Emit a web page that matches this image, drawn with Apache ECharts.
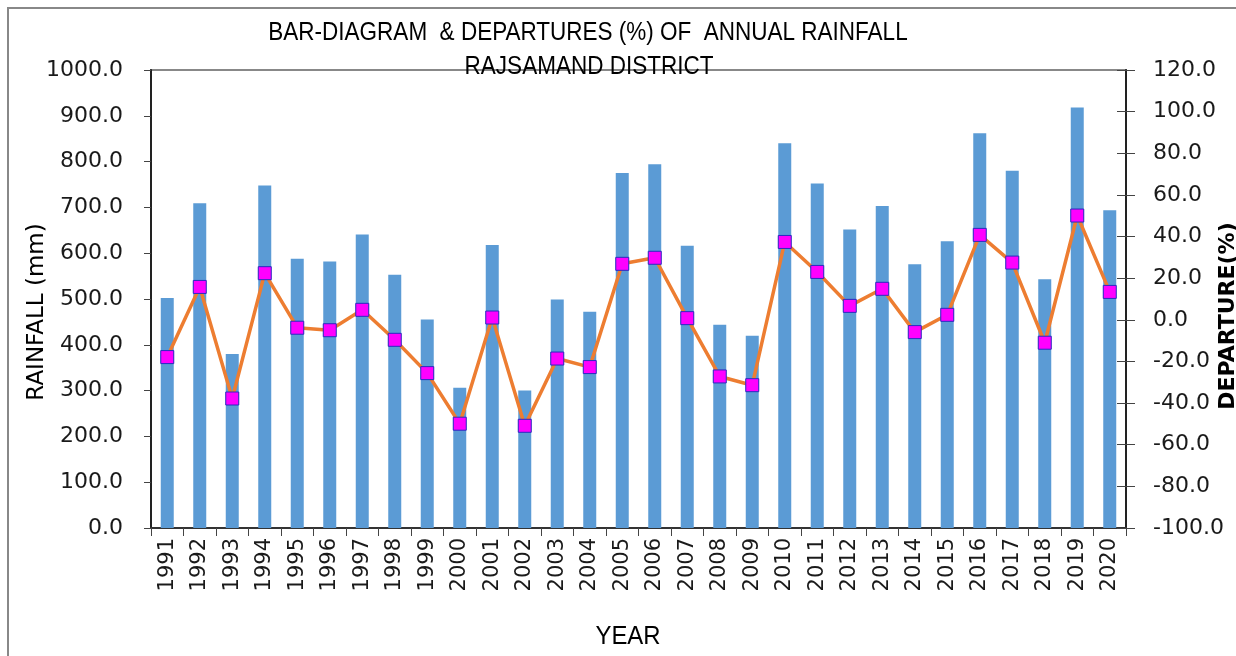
<!DOCTYPE html>
<html>
<head>
<meta charset="utf-8">
<title>Rajsamand rainfall</title>
<script src="https://cdn.jsdelivr.net/npm/echarts@6/dist/echarts.min.js"></script>
<style>
    html, body {
        margin: 0;
        padding: 0;
        background: #fff;
    }
    #chart {
        width: 1236px;
        height: 656px;
    }
</style>
</head>
<body>
<div id="chart"></div>
<script>
// years on the x axis
var years = [
    "1991", "1992", "1993", "1994", "1995", "1996", "1997", "1998", "1999", "2000",
    "2001", "2002", "2003", "2004", "2005", "2006", "2007", "2008", "2009", "2010",
    "2011", "2012", "2013", "2014", "2015", "2016", "2017", "2018", "2019", "2020"
];
// annual rainfall (mm), left axis
var rainfall = [
    502, 709, 380, 748, 588, 582, 641, 553, 455, 306,
    618, 300, 499, 472, 775, 794, 616, 444, 420, 840,
    752, 652, 703, 576, 626, 862, 780, 543, 918, 694
];
// departure from normal (%), right axis
var departure = [
    -17.9, 15.8, -37.8, 22.4, -3.8, -5.0, 4.8, -9.6, -25.6, -49.9,
    1.1, -50.9, -18.6, -22.7, 26.9, 29.8, 0.8, -27.2, -31.4, 37.4,
    23.0, 6.7, 14.9, -5.9, 2.4, 40.8, 27.5, -11.0, 50.1, 13.4
];
var rainfallTicks = { min: 0, max: 1000, interval: 100 };
var departureTicks = { min: -100, max: 120, interval: 20 };

var tickFont = "DejaVu Sans";
var narrowFont = "Liberation Sans";

var chart = echarts.init(document.getElementById("chart"));

var options = {
    animation: false,
    backgroundColor: "#fff",
    grid: {
        left: 151,
        right: 110,
        top: 70,
        bottom: 128,
        show: true,
        borderColor: "#888",
        borderWidth: 2
    },
    xAxis: {
        type: "category",
        data: years,
        boundaryGap: true,
        axisLine: { lineStyle: { color: "#333", width: 2 } },
        axisTick: { show: true, length: 8, lineStyle: { color: "#444" } },
        axisLabel: {
            rotate: 90,
            margin: 10,
            fontFamily: tickFont,
            fontSize: 21,
            color: "#1a1a1a"
        },
        splitLine: { show: false }
    },
    yAxis: [
        {
            type: "value",
            position: "left",
            min: rainfallTicks.min,
            max: rainfallTicks.max,
            interval: rainfallTicks.interval,
            axisLine: { show: true, lineStyle: { color: "#222", width: 2 } },
            axisTick: { show: true, length: 7, lineStyle: { color: "#444" } },
            axisLabel: {
                margin: 28,
                fontFamily: tickFont,
                fontSize: 22,
                color: "#1a1a1a",
                formatter: function (v) { return v.toFixed(1); }
            },
            splitLine: { show: false }
        },
        {
            type: "value",
            position: "right",
            min: departureTicks.min,
            max: departureTicks.max,
            interval: departureTicks.interval,
            axisLine: { show: true, lineStyle: { color: "#222", width: 2 } },
            axisTick: { show: true, length: 9, lineStyle: { color: "#444" } },
            axisLabel: {
                margin: 27,
                fontFamily: tickFont,
                fontSize: 22,
                color: "#1a1a1a",
                formatter: function (v) { return v.toFixed(1); }
            },
            splitLine: { show: false }
        },
        {
            // inner half of the crossing ticks on the right axis
            type: "value",
            position: "right",
            min: departureTicks.min,
            max: departureTicks.max,
            interval: departureTicks.interval,
            axisLine: { show: false },
            axisTick: { show: true, inside: true, length: 9, lineStyle: { color: "#444" } },
            axisLabel: { show: false },
            splitLine: { show: false }
        }
    ],
    series: [
        {
            name: "RAINFALL",
            type: "bar",
            data: rainfall,
            yAxisIndex: 0,
            barWidth: 13,
            itemStyle: { color: "#5B9BD5" }
        },
        {
            name: "DEPARTURE",
            type: "line",
            data: departure,
            yAxisIndex: 1,
            symbol: "rect",
            symbolSize: 13,
            lineStyle: { color: "#ED7D31", width: 3.5 },
            itemStyle: { color: "#FF00FF", borderColor: "#2a2ac0", borderWidth: 1 },
            z: 5
        }
    ],
    graphic: [
        {
            type: "rect",
            shape: { x: 8, y: 8, width: 1260, height: 680 },
            style: { fill: "none", stroke: "#888", lineWidth: 2 },
            silent: true
        },
        {
            type: "text",
            x: 588,
            y: 33,
            scaleX: 0.9,
            style: {
                text: "BAR-DIAGRAM  & DEPARTURES (%) OF  ANNUAL RAINFALL",
                font: "25px " + narrowFont,
                fill: "#000",
                align: "center",
                verticalAlign: "middle"
            }
        },
        {
            type: "text",
            x: 589,
            y: 67,
            scaleX: 0.9,
            style: {
                text: "RAJSAMAND DISTRICT",
                font: "25px " + narrowFont,
                fill: "#000",
                align: "center",
                verticalAlign: "middle"
            }
        },
        {
            type: "text",
            x: 628,
            y: 637,
            scaleX: 0.92,
            style: {
                text: "YEAR",
                font: "26px " + narrowFont,
                fill: "#000",
                align: "center",
                verticalAlign: "middle"
            }
        },
        {
            type: "text",
            x: 37,
            y: 312,
            rotation: Math.PI / 2,
            style: {
                text: "RAINFALL (mm)",
                font: "23px " + tickFont,
                fill: "#000",
                align: "center",
                verticalAlign: "middle"
            }
        },
        {
            type: "text",
            x: 1228,
            y: 316,
            rotation: Math.PI / 2,
            style: {
                text: "DEPARTURE(%)",
                font: "bold 22px " + tickFont,
                fill: "#000",
                align: "center",
                verticalAlign: "middle"
            }
        }
    ]
};

chart.setOption(options, true);
</script>
</body>
</html>
